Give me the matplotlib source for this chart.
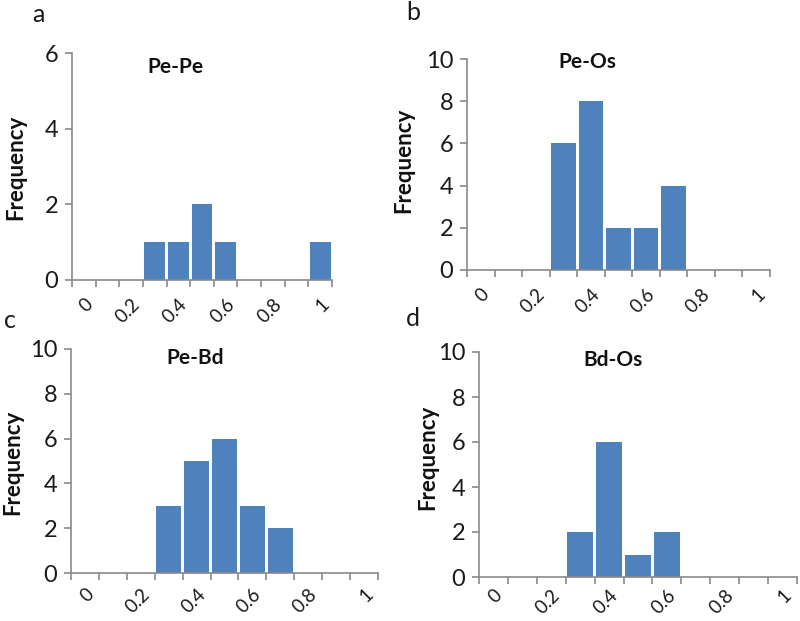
import matplotlib
matplotlib.use("Agg")
import matplotlib.pyplot as plt
import numpy as np

plt.rcParams['font.family'] = ['Lato', 'DejaVu Sans']

categories = ['0', '0.1', '0.2', '0.3', '0.4', '0.5', '0.6', '0.7', '0.8', '0.9', '1']
pe_pe = [0, 0, 0, 1, 1, 2, 1, 0, 0, 0, 1]
pe_os = [0, 0, 0, 6, 8, 2, 2, 4, 0, 0, 0]
pe_bd = [0, 0, 0, 3, 5, 6, 3, 2, 0, 0, 0]
bd_os = [0, 0, 0, 2, 6, 1, 2, 0, 0, 0, 0]

titles = ['Pe-Pe', 'Pe-Os', 'Pe-Bd', 'Bd-Os']
letters = ['a', 'b', 'c', 'd']
series = [pe_pe, pe_os, pe_bd, bd_os]
ymaxes = [6, 10, 10, 10]

W, H = 800, 621
# axes boxes in pixels: left, right, top, bottom
boxes = [(72, 332, 53, 280), (467, 770, 59, 270), (71, 378, 349, 573), (479, 797, 352, 577)]
title_pos = [(175, 67), (587, 62), (195, 358), (613, 360)]
letter_pos = [(38, 14), (413, 13), (10, 320), (413, 318)]
ylabel_pos = [(16, 167), (404, 160), (13, 462), (428, 457)]
xpads = [11, 11, 9, 7]

bar_color = '#4F81BD'
axis_color = '#898989'

fig = plt.figure(figsize=(8, 6.21), dpi=100)
for k in range(4):
    l, r, t, b = boxes[k]
    ax = fig.add_axes([l / W, 1 - b / H, (r - l) / W, (b - t) / H])
    x = np.arange(len(categories))
    ax.bar(x, series[k], width=0.88, color=bar_color, zorder=2)
    ax.set_xlim(-0.5, len(categories) - 0.5)
    ax.set_ylim(0, ymaxes[k])
    ax.set_yticks(np.arange(0, ymaxes[k] + 1, 2))
    for s in ['top', 'right']:
        ax.spines[s].set_visible(False)
    for s in ['left', 'bottom']:
        ax.spines[s].set_color(axis_color)
        ax.spines[s].set_linewidth(1.2)
    # boundaries as major ticks, labels as minor
    ax.set_xticks(np.arange(-0.5, len(categories), 1.0))
    ax.set_xticklabels([])
    ax.set_xticks(x[::2], minor=True)
    ax.set_xticklabels(categories[::2], minor=True, rotation=45, ha='right',
                       rotation_mode='anchor', fontsize=13.5, color='#1a1a1a')
    ax.tick_params(axis='x', which='major', direction='out', length=5, color=axis_color, width=1.2)
    ax.tick_params(axis='x', which='minor', length=0, pad=xpads[k])
    ax.tick_params(axis='y', direction='out', length=5, color=axis_color, width=1.2,
                   labelsize=17, labelcolor='#1a1a1a', pad=5)
    tx, ty = title_pos[k]
    fig.text(tx / W, 1 - ty / H, titles[k], ha='center', va='center', fontsize=15,
             fontweight='bold', color='#111111')
    lx, ly = letter_pos[k]
    fig.text(lx / W, 1 - ly / H, letters[k], ha='center', va='center', fontsize=18, color='#1a1a1a')
    yx, yy = ylabel_pos[k]
    fig.text(yx / W, 1 - yy / H, 'Frequency', ha='center', va='center', rotation=90,
             fontsize=16, fontweight='bold', color='#111111')

fig.savefig('out.png', dpi=100)
